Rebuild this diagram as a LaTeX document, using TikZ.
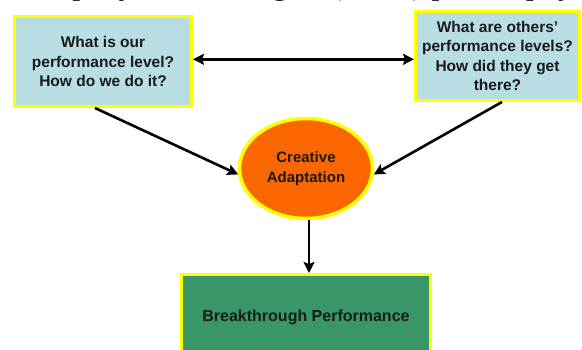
\documentclass[tikz,border=0pt]{standalone}
\usepackage{fontspec}
\setmainfont{Liberation Sans}
\newfontfamily\serifline{Liberation Serif}
\usetikzlibrary{arrows.meta,shapes.geometric}
\definecolor{boxblue}{RGB}{184,222,227}
\definecolor{hiyellow}{RGB}{255,255,0}
\definecolor{adaptorange}{RGB}{250,102,0}
\definecolor{bpgreen}{RGB}{56,150,104}
\definecolor{txtdark}{RGB}{26,26,26}
\tikzset{
  qbox/.style={rectangle, draw=hiyellow, line width=3pt, fill=boxblue, inner sep=0pt,
    align=center, text=txtdark, font=\fontsize{15.5}{19.5}\selectfont\bfseries},
  ellbox/.style={ellipse, draw=hiyellow, line width=3.5pt, fill=adaptorange, inner sep=0pt,
    align=center, text=txtdark, font=\fontsize{15}{19.5}\selectfont\bfseries},
  gbox/.style={rectangle, draw=hiyellow, line width=3pt, fill=bpgreen, inner sep=0pt,
    align=center, text=txtdark, font=\fontsize{16}{19.5}\selectfont\bfseries},
  conn/.style={line width=2.6pt, black, -{Stealth[length=11pt,width=11pt,inset=2pt]}},
  cutline/.style={anchor=base west, inner sep=0pt, font=\fontsize{32}{36}\selectfont\serifline}
}
\begin{document}
\begin{tikzpicture}[x=1pt,y=-1pt]
\useasboundingbox (0,0) rectangle (582,350);
\fill[white] (0,0) rectangle (582,350);
% cut-off line of text at the top (only its descenders show)
\node[cutline] (t1) at (17,-5.5) {company's};
\node[cutline] (t2) at (231,-5.5) {long};
\node[cutline] (t3) at (331,-5.5) {(TQM) philosophy};
% nodes
\node[qbox, minimum width=177pt, minimum height=90pt] (lb) at (103,61.5)
  {What is our\\performance level?\\How do we do it?};
\node[qbox, minimum width=164pt, minimum height=89pt] (rb) at (497.5,56)
  {What are others'\\performance levels?\\How did they get\\there?};
\node[ellbox, minimum width=133pt, minimum height=100pt] (ca) at (306,168.5)
  {Creative\\Adaptation};
\node[gbox, minimum width=249pt, minimum height=85pt] (bp) at (306,317)
  {Breakthrough Performance};
% connectors
\coordinate (mid) at (300,59.3);
\draw[conn, {Stealth[length=11pt,width=11pt,inset=2pt]}-{Stealth[length=11pt,width=11pt,inset=2pt]}]
  (lb.east |- mid) -- (rb.west |- mid);
\draw[conn] ([xshift=-8pt]lb.south) -- (ca.185);
\draw[conn] ([xshift=4.5pt]rb.south) -- (ca.-5);
\draw[conn] ([xshift=3pt]ca.south) -- ([xshift=3pt]bp.north);
\end{tikzpicture}
\end{document}
